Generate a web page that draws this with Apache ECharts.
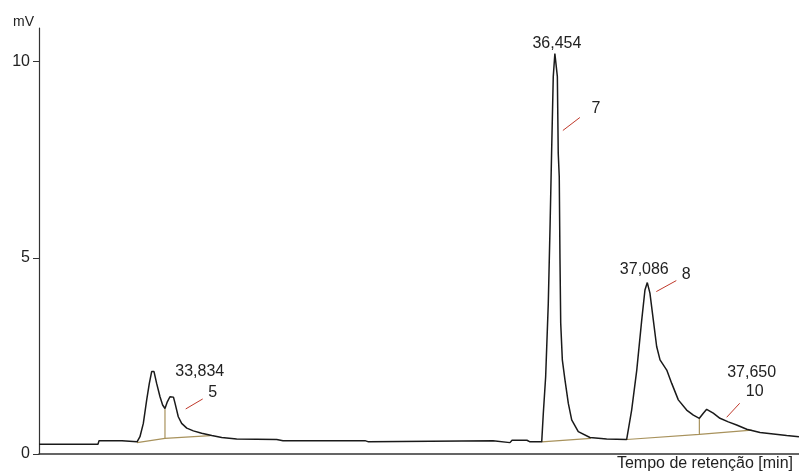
<!DOCTYPE html>
<html>
<head>
<meta charset="utf-8">
<script src="https://cdn.jsdelivr.net/npm/echarts@6.0.0/dist/echarts.min.js"></script>
<style>
  html, body { margin: 0; padding: 0; background: #fff; }
  #chart { width: 799px; height: 473px; }
</style>
</head>
<body>
<div id="chart"></div>
<script>
// cromatograma: tempo (min) x sinal (mV)
const traceTime = [
  32.927, 33.330, 33.337, 33.494, 33.501, 33.597, 33.617, 33.640, 33.663, 33.681,
  33.697, 33.713, 33.731, 33.754, 33.772, 33.788, 33.804, 33.822, 33.834, 33.846,
  33.857, 33.879, 33.902, 33.937, 33.982, 34.039, 34.108, 34.176, 34.278, 34.552,
  34.595, 35.156, 35.160, 35.180, 35.183, 36.031, 36.038, 36.147, 36.161, 36.263,
  36.284, 36.364, 36.375, 36.391, 36.409, 36.421, 36.432, 36.443, 36.454, 36.471,
  36.477, 36.484, 36.489, 36.494, 36.505, 36.523, 36.546, 36.569, 36.614, 36.694,
  36.808, 36.945, 36.979, 37.014, 37.048, 37.070, 37.086, 37.104, 37.127, 37.150,
  37.173, 37.219, 37.253, 37.298, 37.355, 37.401, 37.442, 37.469, 37.492, 37.537,
  37.583, 37.640, 37.697, 37.766, 37.857, 37.948, 38.039, 38.123
];
const traceMv = [
  0.25, 0.25, 0.34, 0.34, 0.31, 0.31, 0.44, 0.78, 1.38, 1.80,
  2.10, 2.10, 1.80, 1.46, 1.25, 1.16, 1.33, 1.46, 1.48, 1.45,
  1.29, 0.95, 0.78, 0.66, 0.59, 0.53, 0.47, 0.42, 0.38, 0.37,
  0.34, 0.34, 0.31, 0.31, 0.34, 0.34, 0.29, 0.29, 0.35, 0.35,
  0.31, 0.31, 1.04, 1.97, 3.84, 5.79, 7.75, 9.62, 10.21, 9.62,
  7.67, 7.07, 4.95, 3.33, 2.40, 1.89, 1.29, 0.87, 0.57, 0.42,
  0.38, 0.37, 1.12, 2.14, 3.42, 4.18, 4.37, 4.10, 3.42, 2.74,
  2.40, 2.14, 1.80, 1.38, 1.12, 0.99, 0.91, 1.04, 1.14, 1.04,
  0.91, 0.82, 0.74, 0.63, 0.55, 0.51, 0.47, 0.44
];

// linhas de base da integração
const baseA = [[33.597, 0.29], [33.788, 0.40], [34.100, 0.47]];
const baseB = [[36.364, 0.31], [36.700, 0.40]];
const baseC = [[36.945, 0.37], [37.442, 0.50], [37.800, 0.61]];
const dropA = [[33.788, 0.40], [33.788, 1.16]];
const dropC = [[37.442, 0.50], [37.442, 0.91]];

// picos identificados
const peakTimes = [33.834, 36.454, 37.086, 37.492];
const peakHeights = [1.48, 10.21, 4.37, 1.14];
const peakLabels = ['33,834', '36,454', '37,086', '37,650'];
const peakNumbers = ['5', '7', '8', '10'];

const yTicks = [0, 5, 10];

// deslocamento (px) dos textos em relação ao ápice
const annotLayout = [
  { label: [28, -24], num: [41, -3], lead: [14, 13, 31, 3] },
  { label: [2, -10], num: [41, 55], lead: [8, 77, 25, 64] },
  { label: [-3, -13], num: [39, -8], lead: [9, 9, 29, -2] },
  { label: [45, -37], num: [48, -18], lead: [20, 8, 33, -6] }
];

const FONT = '"Liberation Sans", Arial, sans-serif';
const baseColor = '#a8925c';

let chart = echarts.init(document.getElementById('chart'));

const baseSeries = (data) => ({
  type: 'line',
  data: data,
  showSymbol: false,
  silent: true,
  z: 1,
  lineStyle: { color: baseColor, width: 1.2 }
});

let option = {
  animation: false,
  backgroundColor: '#fff',
  grid: { left: 39, right: 0, top: 28, bottom: 19 },
  xAxis: {
    type: 'value',
    min: 32.9266,
    max: 38.1233,
    axisLine: { lineStyle: { color: '#333', width: 1.5 } },
    axisTick: { show: false },
    axisLabel: { show: false },
    splitLine: { show: false }
  },
  yAxis: {
    type: 'value',
    min: 0,
    max: 10.86,
    axisLine: { show: true, lineStyle: { color: '#333', width: 1.2 } },
    axisTick: { show: true, length: 6, customValues: yTicks, lineStyle: { color: '#333' } },
    axisLabel: {
      customValues: yTicks,
      margin: 9,
      color: '#222',
      fontSize: 16,
      fontFamily: FONT
    },
    splitLine: { show: false }
  },
  graphic: [
    {
      type: 'text',
      left: 13,
      top: 15,
      style: { text: 'mV', fill: '#222', font: '14px ' + FONT }
    },
    {
      type: 'text',
      right: 6,
      top: 456,
      style: { text: 'Tempo de retenção [min]', fill: '#222', font: '16px ' + FONT }
    }
  ],
  series: [
    baseSeries(baseA),
    baseSeries(baseB),
    baseSeries(baseC),
    baseSeries(dropA),
    baseSeries(dropC),
    {
      type: 'line',
      data: traceTime.map((t, i) => [t, traceMv[i]]),
      showSymbol: false,
      silent: true,
      z: 3,
      lineStyle: { color: '#1a1a1a', width: 1.5 }
    },
    {
      type: 'custom',
      clip: false,
      silent: true,
      z: 4,
      data: peakTimes.map((t, i) => [t, peakHeights[i]]),
      renderItem: function (params, api) {
        let i = params.dataIndex;
        let p = api.coord([api.value(0), api.value(1)]);
        let L = annotLayout[i];
        return {
          type: 'group',
          children: [
            {
              type: 'text',
              style: {
                text: peakLabels[i],
                x: p[0] + L.label[0],
                y: p[1] + L.label[1],
                align: 'center',
                verticalAlign: 'middle',
                textAlign: 'center',
                textVerticalAlign: 'middle',
                fill: '#222',
                font: '16px ' + FONT
              }
            },
            {
              type: 'text',
              style: {
                text: peakNumbers[i],
                x: p[0] + L.num[0],
                y: p[1] + L.num[1],
                align: 'center',
                verticalAlign: 'middle',
                textAlign: 'center',
                textVerticalAlign: 'middle',
                fill: '#222',
                font: '16px ' + FONT
              }
            },
            {
              type: 'line',
              shape: {
                x1: p[0] + L.lead[0], y1: p[1] + L.lead[1],
                x2: p[0] + L.lead[2], y2: p[1] + L.lead[3]
              },
              style: { stroke: '#c0392b', lineWidth: 1 }
            }
          ]
        };
      }
    }
  ]
};
chart.setOption(option);
</script>
</body>
</html>
